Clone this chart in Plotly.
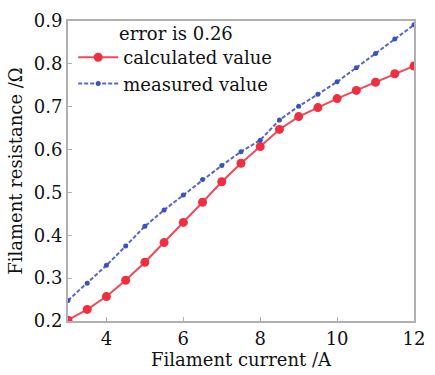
import plotly.graph_objects as go

current = [3, 3.5, 4, 4.5, 5, 5.5, 6, 6.5, 7, 7.5, 8, 8.5, 9, 9.5, 10, 10.5, 11, 11.5, 12]
calculated = [0.202, 0.227, 0.257, 0.295, 0.337, 0.383, 0.430, 0.477, 0.525, 0.568, 0.607,
              0.647, 0.677, 0.698, 0.719, 0.738, 0.757, 0.777, 0.795]
measured = [0.248, 0.288, 0.330, 0.375, 0.421, 0.459, 0.494, 0.530, 0.563, 0.595, 0.622,
            0.669, 0.701, 0.729, 0.758, 0.791, 0.824, 0.858, 0.891]

FONT = "DejaVu Serif"

fig = go.Figure()
fig.add_trace(go.Scatter(
    x=current, y=calculated, name="calculated value", mode="lines+markers",
    line=dict(color="#ee4a58", width=2),
    marker=dict(color="#ee2f40", size=9),
))
fig.add_trace(go.Scatter(
    x=current, y=measured, name="measured value", mode="lines+markers",
    line=dict(color="#5468c4", width=2, dash="4px,2px"),
    marker=dict(color="#3a52c0", size=5),
))

fig.add_annotation(
    text="error is 0.26", xref="paper", yref="paper", x=0.142, y=0.96,
    xanchor="left", yanchor="middle", showarrow=False,
    font=dict(family=FONT, size=18, color="#111"),
)

axis_common = dict(
    showgrid=False, zeroline=False, showline=True, linecolor="#b0b0b0", linewidth=2,
    mirror=True, ticks="inside", tickcolor="#b0b0b0", ticklen=4, tickwidth=1,
    tickfont=dict(family=FONT, size=18, color="#111"),
)

fig.update_layout(
    width=435, height=375,
    margin=dict(l=68, r=10, t=15, b=54),
    plot_bgcolor="white", paper_bgcolor="white",
    showlegend=True,
    legend=dict(
        x=0.015, y=0.94, xanchor="left", yanchor="top",
        font=dict(family=FONT, size=18, color="#111"),
        bgcolor="rgba(0,0,0,0)", tracegroupgap=0, itemwidth=40,
    ),
    xaxis=dict(
        range=[3, 12], tickvals=[4, 6, 8, 10, 12],
        title=dict(text="Filament current /A", font=dict(family=FONT, size=18, color="#111"), standoff=4),
        **axis_common,
    ),
    yaxis=dict(
        range=[0.2, 0.9], tickvals=[0.2, 0.3, 0.4, 0.5, 0.6, 0.7, 0.8, 0.9], tickformat=".1f",
        title=dict(text="Filament resistance /Ω", font=dict(family=FONT, size=18, color="#111"), standoff=6),
        **axis_common,
    ),
)

fig.write_html("out.html")
